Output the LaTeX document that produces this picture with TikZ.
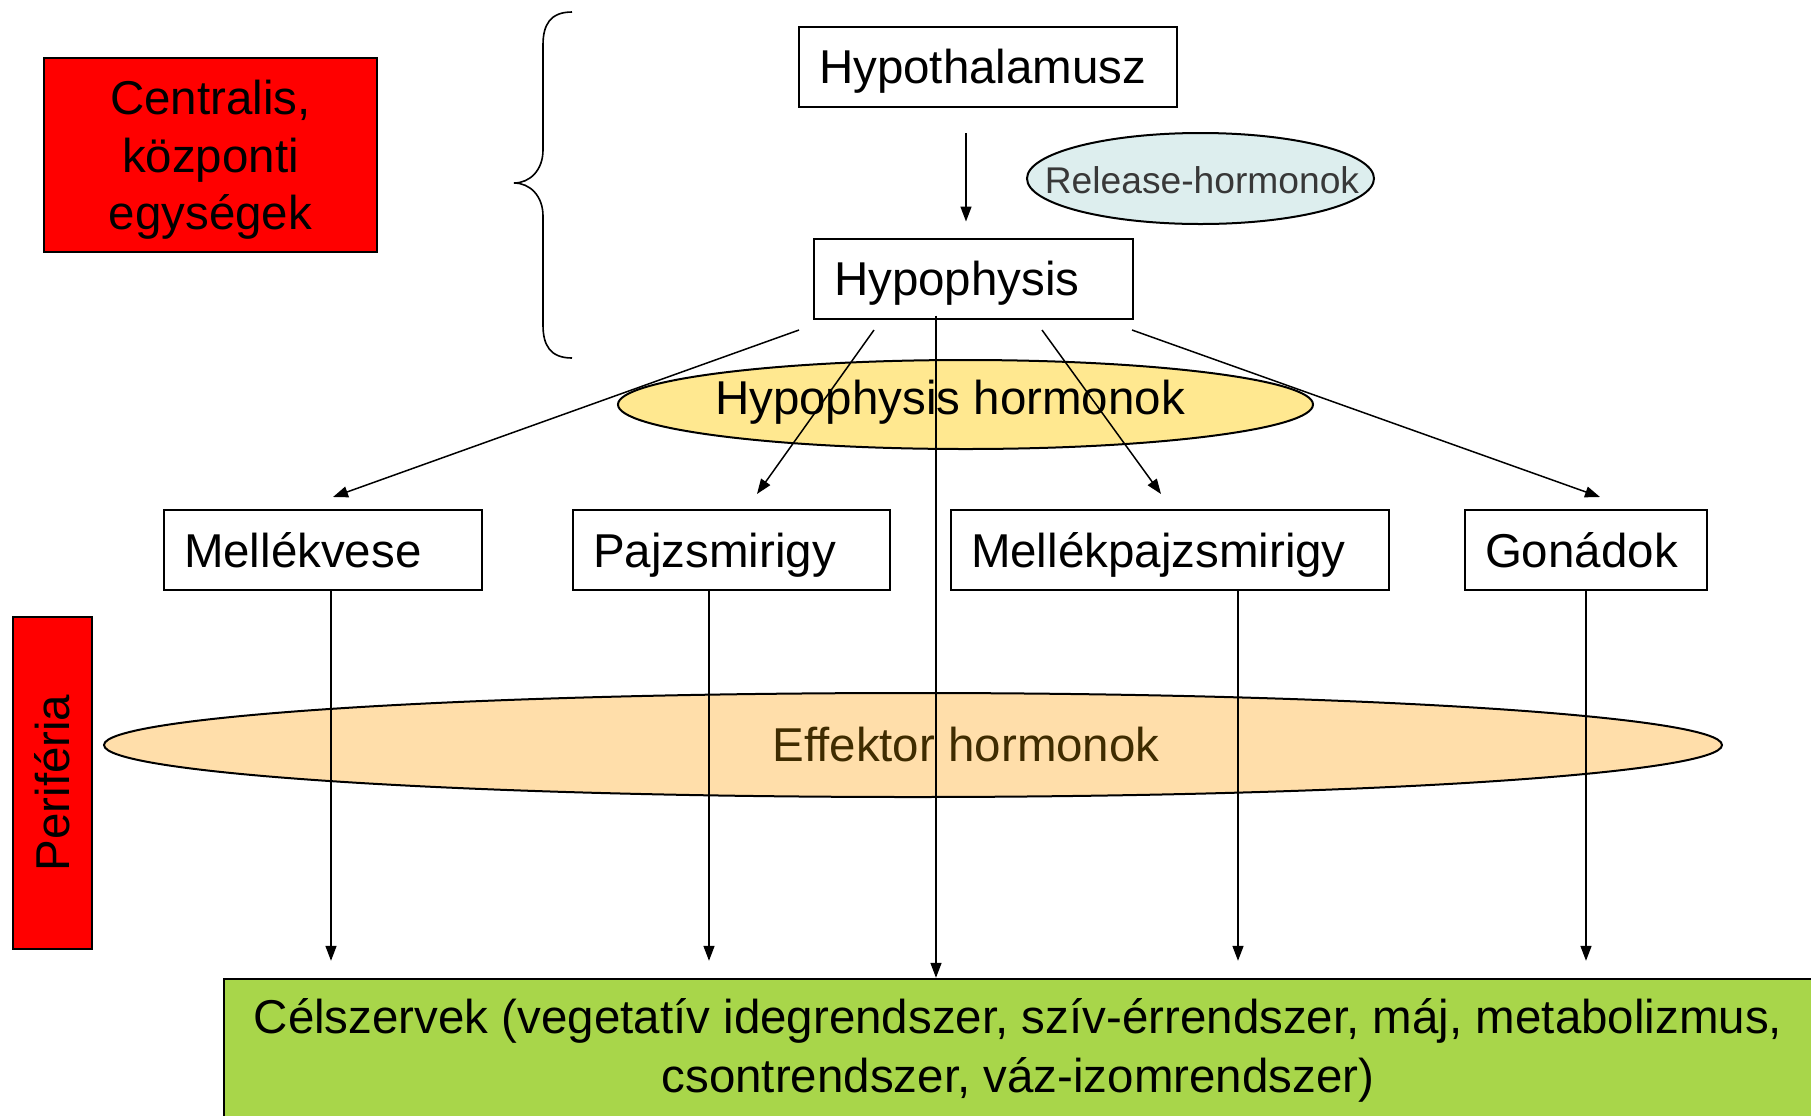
\documentclass[tikz,border=0pt]{standalone}
\usepackage{fontspec}
\setmainfont{Liberation Sans}
\usetikzlibrary{arrows.meta,shapes.geometric}
\definecolor{relfill}{HTML}{DDEEEE}
\definecolor{hhfill}{HTML}{FFE890}
\definecolor{efffill}{HTML}{FFDEAA}
\definecolor{celfill}{HTML}{A8D64A}
\definecolor{efftext}{HTML}{3F2C00}
\newcommand{\bigfs}{\fontsize{23.75}{28.75}\selectfont}
\newcommand{\relfs}{\fontsize{18.6}{22}\selectfont}
\tikzset{
  box/.style={draw, line width=1pt, inner xsep=10pt, inner ysep=0pt, align=left, minimum height=40pt, text height=20pt, text depth=3pt, font=\bigfs},
  redbox/.style={draw, line width=0.8pt, fill=red, align=center, inner sep=0pt, font=\bigfs},
  oval/.style={draw, ellipse, line width=1pt, inner sep=0pt},
  arr/.style={line width=0.75pt, -{Triangle[length=7.5pt,width=5.5pt]}},
  ln/.style={line width=0.75pt}
}
\begin{document}
\begin{tikzpicture}[x=0.5pt,y=-0.5pt]
\useasboundingbox (0,0) rectangle (1811,1115);
\clip (0,0) rectangle (1811,1115);
\fill[white] (0,0) rectangle (1811,1115);

% red side boxes
\node[redbox, minimum width=166.5pt, minimum height=97pt] (cent) at (210.5,155) {};
\node[align=center, font=\bigfs] (centt) at (210.5,160) {Centralis,\\ központi\\ egységek};
\node[redbox, minimum width=166pt, minimum height=39.5pt, rotate=90] (peri) at (52.5,783) {Periféria};

% brace
\draw[line width=0.8pt] (572,12) .. controls (550,12) and (543,25) .. (543,45) -- (543,150)
  .. controls (543,170) and (530,183) .. (514,183)
  .. controls (530,183) and (543,196) .. (543,216) -- (543,325)
  .. controls (543,345) and (550,358) .. (572,358);

% top boxes
\node[box, text width=169pt] (hth) at (988,66.5) {Hypothalamusz};
\node[box, text width=139.5pt] (hph) at (973.5,278.5) {Hypophysis};
\node[oval, fill=relfill, minimum width=173.5pt, minimum height=45.5pt] (rel) at (1200.5,178.5) {};
\node[font=\relfs, text=black!78] (relt) at (1202,180) {Release-hormonok};

% ellipses
\node[oval, fill=hhfill, minimum width=347.5pt, minimum height=44.5pt] (hh) at (965.5,404.5) {};
\node[font=\bigfs] (hht) at (950,402) {Hypophysis hormonok};
\node[oval, fill=efffill, minimum width=809pt, minimum height=52pt] (eff) at (913,745) {};
\node[font=\bigfs, text=efftext] (efft) at (966,745) {Effektor hormonok};

% row of glands
\node[box, text width=139pt] (mv) at (323,550) {Mellékvese};
\node[box, text width=138.5pt] (pz) at (731.5,550) {Pajzsmirigy};
\node[box, text width=199pt] (mpz) at (1170,550) {Mellékpajzsmirigy};
\node[box, text width=101pt] (gon) at (1586,550) {Gonádok};

% target organs
\node[draw, line width=1.2pt, fill=celfill, minimum width=794pt, minimum height=71pt, align=center, font=\fontsize{23.75}{29.5}\selectfont] (cel) at (1018,1050) {Célszervek (vegetatív idegrendszer, szív-érrendszer, máj, metabolizmus,\\ csontrendszer, váz-izomrendszer)};

% connectors
\coordinate (a0) at (966,133);
\draw[arr, shorten >=8pt] (a0) -- (hph.north -| a0);
\coordinate (s1) at (799,330);
\coordinate (s2) at (874,330);
\coordinate (s4) at (1042,330);
\coordinate (s5) at (1132,330);
\coordinate (e1) at (333,497);
\coordinate (e2) at (757,494);
\coordinate (e4) at (1161,494);
\coordinate (e5) at (1600,497);
\draw[arr] (s1) -- (e1);
\draw[arr] (s2) -- (e2);
\draw[arr] (s4) -- (e4);
\draw[arr] (s5) -- (e5);
\draw[arr] (hph.south -| 936,0) ++(0,-4) -- (cel.north -| 936,0);

\draw[arr, shorten >=8.5pt] (mv.south -| 331,0) -- (cel.north -| 331,0);
\draw[arr, shorten >=8.5pt] (pz.south -| 709,0) -- (cel.north -| 709,0);
\draw[arr, shorten >=8.5pt] (mpz.south -| 1238,0) -- (cel.north -| 1238,0);
\draw[arr, shorten >=8.5pt] (gon.south -| 1586,0) -- (cel.north -| 1586,0);
\end{tikzpicture}
\end{document}
